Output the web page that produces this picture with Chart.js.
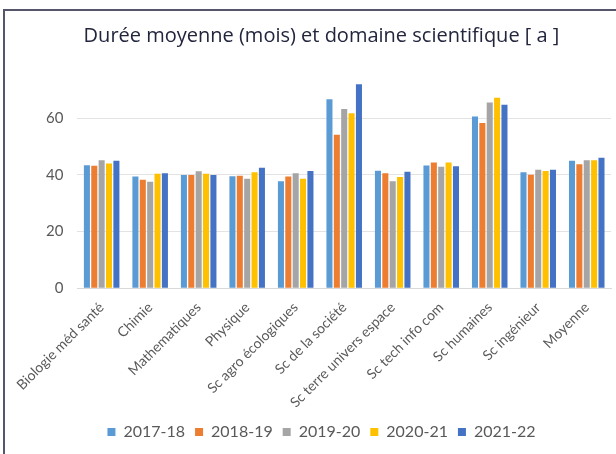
<!DOCTYPE html>
<html>
<head>
<meta charset="utf-8">
<script src="https://cdn.jsdelivr.net/npm/chart.js@4.4.1/dist/chart.umd.min.js"></script>
<style>
  html, body { margin: 0; padding: 0; background: #fff; }
  #wrap { position: relative; width: 616px; height: 454px; overflow: hidden; }
  #frame { position: absolute; left: 3px; top: 9px; width: 620px; height: 460px;
           border-top: 2px solid #55566a; border-left: 2px solid #55566a; }
  canvas { position: absolute; left: 0; top: 0; }
</style>
</head>
<body>
<div id="wrap">
  <div id="frame"></div>
  <canvas id="barChart" width="616" height="454"></canvas>
</div>
<script>
// Categories (domaines scientifiques)
const categories = [
  'Biologie méd santé', 'Chimie', 'Mathematiques', 'Physique', 'Sc agro écologiques',
  'Sc de la société', 'Sc terre univers espace', 'Sc tech info com', 'Sc humaines',
  'Sc ingénieur', 'Moyenne'
];

// Durée moyenne (mois) per year
const y2017 = [43.4, 39.4, 40.0, 39.5, 37.8, 66.7, 41.5, 43.3, 60.6, 40.9, 45.0];
const y2018 = [43.2, 38.3, 40.0, 39.7, 39.4, 54.2, 40.6, 44.4, 58.3, 40.1, 43.8];
const y2019 = [45.2, 37.6, 41.3, 38.6, 40.6, 63.3, 37.8, 42.9, 65.6, 41.8, 45.2];
const y2020 = [44.0, 40.4, 40.4, 40.9, 38.6, 61.8, 39.3, 44.4, 67.3, 41.4, 45.2];
const y2021 = [45.0, 40.6, 40.0, 42.5, 41.4, 72.0, 41.1, 43.1, 64.8, 41.8, 46.1];

const seriesLabels = ['2017-18', '2018-19', '2019-20', '2020-21', '2021-22'];
const seriesValues = [y2017, y2018, y2019, y2020, y2021];
const seriesColors = ['#5b9bd5', '#ed7d31', '#a5a5a5', '#ffc000', '#4472c4'];

const yTicks = [0, 20, 40, 60];

const datasets = seriesLabels.map((label, i) => ({
  label: label,
  data: seriesValues[i],
  backgroundColor: seriesColors[i],
  borderWidth: 0,
  categoryPercentage: 0.76,
  barPercentage: 0.82
}));

new Chart(document.getElementById('barChart').getContext('2d'), {
  type: 'bar',
  data: { labels: categories, datasets: datasets },
  options: {
    responsive: false,
    animation: false,
    devicePixelRatio: 1,
    layout: { padding: { left: 32, right: 5, top: 24, bottom: 4 } },
    plugins: {
      title: {
        display: true,
        text: 'Durée moyenne (mois) et domaine scientifique [ a ]',
        color: '#23253d',
        font: { family: 'Open Sans', size: 20, weight: '500' },
        padding: { top: 0, bottom: 25 }
      },
      legend: {
        position: 'bottom',
        labels: {
          boxWidth: 8, boxHeight: 8,
          color: '#595959',
          font: { family: 'Lato', size: 16 },
          padding: 10
        }
      },
      tooltip: { enabled: false }
    },
    scales: {
      x: {
        grid: { display: false },
        border: { display: true, color: '#d9d9d9', width: 1 },
        ticks: {
          color: '#595959',
          font: { family: 'Lato', size: 14 },
          minRotation: 45, maxRotation: 45,
          padding: 3
        }
      },
      y: {
        min: 0, max: 76,
        afterBuildTicks: axis => { axis.ticks = yTicks.map(v => ({ value: v })); },
        grid: { color: '#e3e3e3', drawTicks: false },
        border: { display: false },
        ticks: {
          color: '#595959',
          font: { family: 'Lato', size: 15 },
          padding: 14
        }
      }
    }
  }
});
</script>
</body>
</html>
